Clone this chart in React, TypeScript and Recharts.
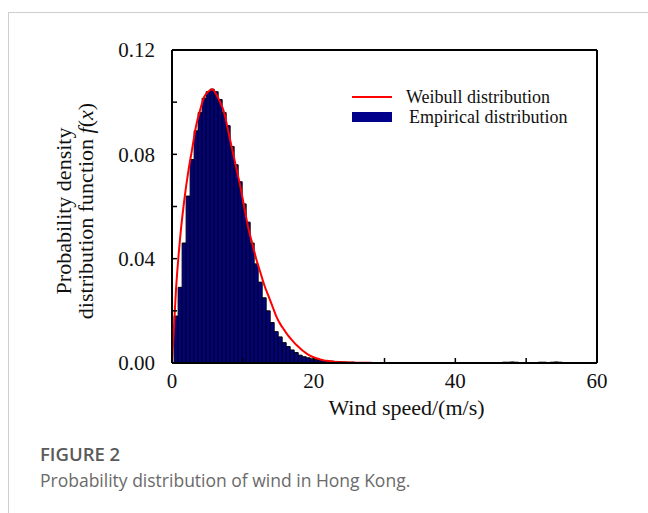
import { ComposedChart, Bar, Line, XAxis, YAxis, Legend, Label } from "recharts";

// histogram bins (m/s)
const BIN_START = 0.3;
const BIN_WIDTH = 0.565;

// empirical probability density per bin
const empiricalDensity = [
  0.018, 0.029, 0.046, 0.064, 0.078, 0.089, 0.096, 0.1015, 0.104, 0.105,
  0.104, 0.101, 0.096, 0.091, 0.083, 0.076, 0.0695, 0.061, 0.054, 0.046,
  0.038, 0.031, 0.025, 0.02, 0.0155, 0.012, 0.01, 0.0078, 0.0063, 0.005,
  0.004, 0.003, 0.0024, 0.002, 0.0016, 0.0013, 0.0011, 0.0009, 0.0008, 0.0007,
  0.0006, 0.0005, 0.0004, 0.0003, 0.0003, 0.0002, 0.0002, 0.0002, 0.0001, 0.0001,
  0.0001, 0.0001, 0, 0.0001, 0, 0, 0.0001, 0, 0, 0,
  0, 0, 0, 0, 0, 0, 0, 0, 0, 0,
  0, 0, 0, 0, 0, 0, 0, 0, 0, 0,
  0, 0, 0.0003, 0.0003, 0.0004, 0.0003, 0, 0, 0, 0,
  0, 0.0003, 0.0003, 0, 0.0003, 0.0004, 0.0003, 0, 0, 0,
];

// fitted Weibull curve read at the same bin centres (drawn up to ~30 m/s)
const weibullStart = 0;
const weibullDensity = [
  0.029, 0.048, 0.062, 0.073, 0.082, 0.091, 0.097, 0.102, 0.104, 0.105,
  0.103, 0.1, 0.096, 0.089, 0.082, 0.075, 0.068, 0.06, 0.052, 0.046,
  0.04, 0.035, 0.03, 0.026, 0.022, 0.018, 0.015, 0.0127, 0.0105, 0.0087,
  0.007, 0.0056, 0.0043, 0.0032, 0.0024, 0.0018, 0.0014, 0.001, 0.0008, 0.0006,
  0.0004, 0.0003, 0.0003, 0.0002, 0.0002, 0.0001, 0.0001, 0.0001, 0.0001, 0,
  0, 0, 0, 0,
];

const xTicks = [0, 10, 20, 30, 40, 50, 60];
const xTickLabels = ["0", "", "20", "", "40", "", "60"];
const yTicks = [0, 0.02, 0.04, 0.06, 0.08, 0.1, 0.12];
const yTickLabels = ["0.00", "", "0.04", "", "0.08", "", "0.12"];

const data = [
  { speed: 0, weibull: weibullStart },
  ...empiricalDensity.map((v, i) => ({
    speed: BIN_START + BIN_WIDTH * (i + 0.5),
    empirical: v,
    weibull: weibullDensity[i],
  })),
];

const SERIF = '"Liberation Serif", "Times New Roman", serif';
const NAVY = "#00008b";

function YTitle({ viewBox }: any) {
  const cy = 198;
  const x1 = 62;
  const x2 = 84;
  const style = { fontFamily: SERIF, fontSize: 22, fill: "#111" };
  return (
    <g>
      <text x={x1} y={cy} transform={`rotate(-90 ${x1} ${cy})`} textAnchor="middle" style={style}>
        Probability density
      </text>
      <text x={x2} y={cy} transform={`rotate(-90 ${x2} ${cy})`} textAnchor="middle" style={style}>
        distribution function <tspan fontStyle="italic">f</tspan>(<tspan fontStyle="italic">x</tspan>)
      </text>
    </g>
  );
}

function LegendBox() {
  const row = { display: "flex", alignItems: "center", height: 20 } as const;
  return (
    <div style={{ fontFamily: SERIF, fontSize: 18, color: "#111", lineHeight: "20px" }}>
      <div style={row}>
        <svg width={40} height={20}>
          <line x1={0} y1={10} x2={40} y2={10} stroke="#ff0000" strokeWidth={2} />
        </svg>
        <span style={{ marginLeft: 14 }}>Weibull distribution</span>
      </div>
      <div style={row}>
        <svg width={40} height={20}>
          <rect x={0} y={5} width={40} height={10} fill={NAVY} />
        </svg>
        <span style={{ marginLeft: 17 }}>Empirical distribution</span>
      </div>
    </div>
  );
}

export default function App() {
  const axisLine = { stroke: "#000", strokeWidth: 2 };
  const tickLine = { stroke: "#000", strokeWidth: 1.5 };
  const tick = { fill: "#111", fontSize: 21, fontFamily: SERIF };
  return (
    <div
      style={{
        position: "absolute",
        left: 8,
        top: 12,
        width: 640,
        height: 501,
        borderTop: "1px solid #cfcfcf",
        borderLeft: "1px solid #cfcfcf",
        background: "#fff",
      }}
    >
      <ComposedChart
        width={640}
        height={420}
        data={data}
        margin={{ top: 27, right: 42, left: 83, bottom: 8 }}
      >
        <XAxis
          xAxisId="x"
          dataKey="speed"
          type="number"
          domain={[0, 60]}
          ticks={xTicks}
          tickFormatter={(v: number) => xTickLabels[xTicks.indexOf(v)] ?? ""}
          axisLine={axisLine}
          tickLine={tickLine}
          tickSize={-5}
          tickMargin={15}
          tick={tick}
          height={62}
          interval={0}
        >
          <Label
            value="Wind speed/(m/s)"
            position="insideBottom"
            offset={10}
            dx={22}
            style={{ fontFamily: SERIF, fontSize: 22, fill: "#111" }}
          />
        </XAxis>
        <XAxis
          xAxisId="top"
          orientation="top"
          type="number"
          domain={[0, 60]}
          ticks={xTicks}
          axisLine={axisLine}
          tickLine={tickLine}
          tickSize={-5}
          tick={false}
          height={10}
        />
        <YAxis
          yAxisId="y"
          type="number"
          domain={[0, 0.12]}
          ticks={yTicks}
          tickFormatter={(v: number) => yTickLabels[yTicks.indexOf(v)] ?? ""}
          axisLine={axisLine}
          tickLine={tickLine}
          tickSize={-5}
          tickMargin={22}
          tick={tick}
          width={80}
          interval={0}
        >
          <Label content={YTitle} />
        </YAxis>
        <YAxis
          yAxisId="right"
          orientation="right"
          type="number"
          domain={[0, 0.12]}
          ticks={yTicks}
          axisLine={axisLine}
          tickLine={tickLine}
          tickSize={-5}
          tick={false}
          width={10}
        />
        <Bar
          xAxisId="x"
          yAxisId="y"
          dataKey="empirical"
          name="Empirical distribution"
          fill={NAVY}
          stroke="#000"
          strokeWidth={1}
          barSize={4}
          isAnimationActive={false}
        />
        <Line
          xAxisId="x"
          yAxisId="y"
          dataKey="weibull"
          name="Weibull distribution"
          type="monotone"
          stroke="#ff0000"
          strokeWidth={2}
          dot={false}
          activeDot={false}
          isAnimationActive={false}
        />
        <Legend
          layout="horizontal"
          verticalAlign="middle"
          align="center"
          content={LegendBox}
          wrapperStyle={{ left: 343, top: 74, width: 250 }}
        />
      </ComposedChart>
      <div
        style={{
          position: "absolute",
          left: 31,
          top: 430,
          fontFamily: '"Open Sans", sans-serif',
          fontSize: 18.5,
          lineHeight: "22px",
          fontWeight: 600,
          color: "#5a5a5a",
        }}
      >
        FIGURE 2
      </div>
      <div
        style={{
          position: "absolute",
          left: 31,
          top: 456,
          fontFamily: '"Open Sans", sans-serif',
          fontSize: 17.5,
          lineHeight: "22px",
          color: "#6a6a6a",
        }}
      >
        Probability distribution of wind in Hong Kong.
      </div>
    </div>
  );
}
